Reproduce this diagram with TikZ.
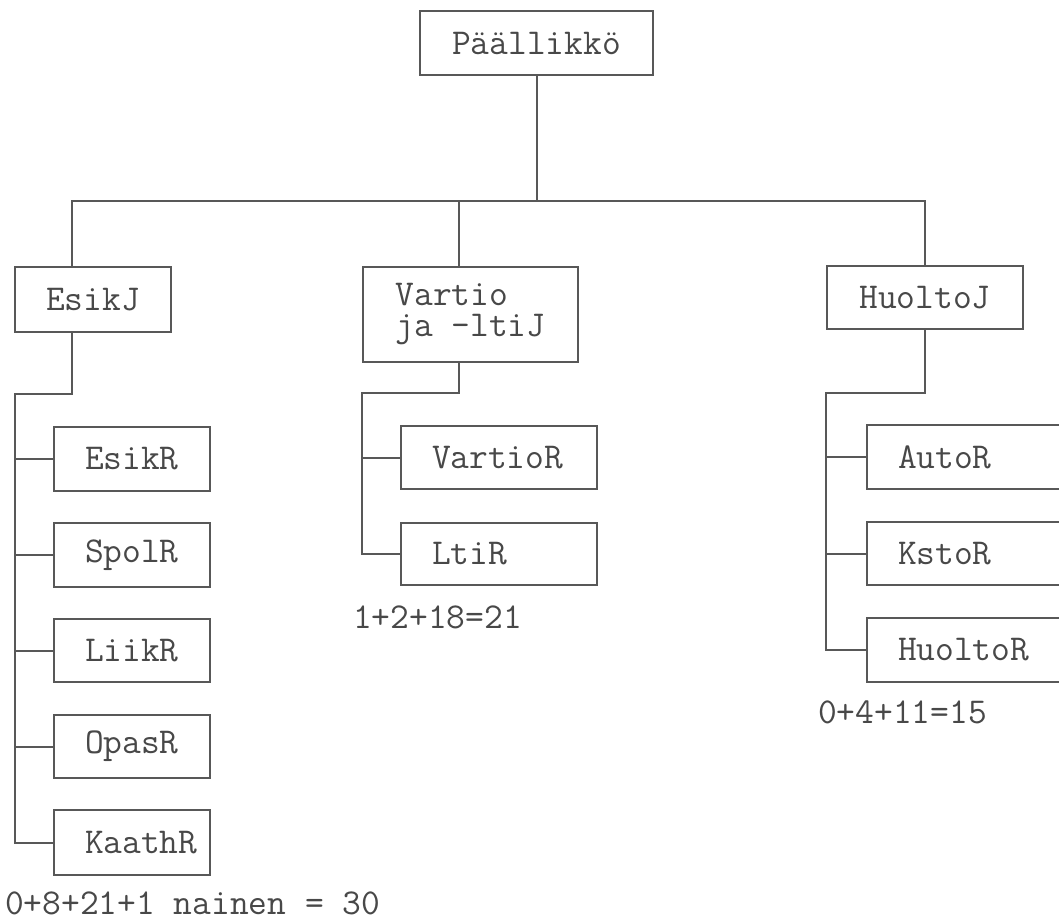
\documentclass[tikz,border=0pt]{standalone}
\usepackage{fontspec}
\definecolor{ln}{RGB}{88,88,88}
\definecolor{tx}{RGB}{72,72,72}
\newcommand\lpad{\hspace*{31pt}}
\begin{document}
\begin{tikzpicture}[x=1pt,y=-1pt,
  box/.style={draw=ln, line width=2pt, inner sep=0pt, anchor=north west,
    minimum height=64pt, text=tx, font=\ttfamily\fontsize{36.4}{31}\selectfont},
  lbox/.style={box, text width=#1, align=left},
  wire/.style={draw=ln, line width=2pt},
  note/.style={anchor=base west, inner sep=0pt, text=tx, font=\ttfamily\fontsize{36.4}{31}\selectfont}]
\useasboundingbox (0,0) rectangle (1059,921);
\clip (0,0) rectangle (1059,921);
% boxes
\node[box, minimum width=233pt] (pal) at (419,10) {Päällikkö};
\node[box, minimum width=156pt, minimum height=65pt] (esikj) at (14,266) {EsikJ};
\node[box, minimum width=215pt, minimum height=95pt, align=left] (vartio) at (362,266) {Vartio\\ja -ltiJ};
\node[box, minimum width=196pt, minimum height=63pt] (huoltoj) at (826,265) {HuoltoJ};
\node[lbox=156pt] (esikr) at (53,426) {\lpad EsikR};
\node[lbox=156pt] (spolr) at (53,522) {\lpad SpolR};
\node[lbox=156pt, minimum height=63pt] (liikr) at (53,618) {\lpad LiikR};
\node[lbox=156pt, minimum height=63pt] (opasr) at (53,714) {\lpad OpasR};
\node[lbox=156pt, minimum height=65pt] (kaathr) at (53,809) {\lpad KaathR};
\node[lbox=196pt, minimum height=63pt] (vartior) at (400,425) {\lpad VartioR};
\node[lbox=196pt, minimum height=62pt] (ltir) at (400,522) {\lpad LtiR};
\node[lbox=196pt] (autor) at (866,424) {\lpad AutoR};
\node[lbox=196pt, minimum height=63pt] (kstor) at (866,521) {\lpad KstoR};
\node[lbox=196pt] (huoltor) at (866,617) {\lpad HuoltoR};
% sums
\node[note] (s1) at (353,628) {1+2+18=21};
\node[note] (s2) at (818,723) {0+4+11=15};
\node[note] (s3) at (5,914) {0+8+21+1 nainen = 30};
% top connectors
\coordinate (bus) at (537,201);
\coordinate (bl) at (72,201);
\coordinate (bm) at (459,201);
\coordinate (br) at (925,201);
\draw[wire] (pal.south -| bus) -- (bus);
\draw[wire] (esikj.north -| bl) -- (bl) -- (br) -- (br |- huoltoj.north);
\draw[wire] (bm) -- (bm |- vartio.north);
% EsikJ subtree
\coordinate (ek) at (72,394);
\coordinate (et) at (15,394);
\draw[wire] (esikj.south -| ek) -- (ek) -- (et) |- (kaathr.west);
\foreach \n in {esikr,spolr,liikr,opasr} \draw[wire] (et |- \n.west) -- (\n.west);
% Vartio subtree
\coordinate (vk) at (459,393);
\coordinate (vt) at (362,393);
\draw[wire] (vartio.south -| vk) -- (vk) -- (vt) |- (ltir.west);
\draw[wire] (vt |- vartior.west) -- (vartior.west);
% HuoltoJ subtree
\coordinate (hk) at (925,393);
\coordinate (ht) at (826,393);
\draw[wire] (huoltoj.south -| hk) -- (hk) -- (ht) |- (huoltor.west);
\foreach \n in {autor,kstor} \draw[wire] (ht |- \n.west) -- (\n.west);
\end{tikzpicture}
\end{document}
